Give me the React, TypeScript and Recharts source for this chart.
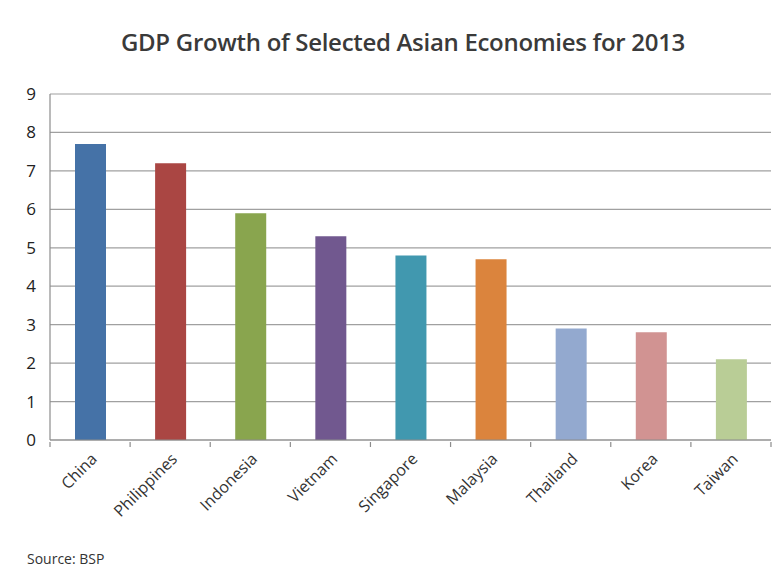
import { Bar, BarChart, CartesianGrid, Cell, XAxis, YAxis } from "recharts";

const countries = ["China", "Philippines", "Indonesia", "Vietnam", "Singapore", "Malaysia", "Thailand", "Korea", "Taiwan"];
const growth = [7.7, 7.2, 5.9, 5.3, 4.8, 4.7, 2.9, 2.8, 2.1];
const barColors = ["#4572A7", "#AA4643", "#89A54E", "#71588F", "#4198AF", "#DB843D", "#93A9CF", "#D19392", "#B9CD96"];
const yTicks = [0, 1, 2, 3, 4, 5, 6, 7, 8, 9];

const data = countries.map((c, i) => ({ country: c, value: growth[i] }));

const FONT = "'Open Sans', 'Liberation Sans', sans-serif";
const W = 782;
const H = 587;
const MARGIN = { top: 94, right: 11, bottom: 117, left: 0 };
const Y_AXIS_W = 50;
const BAND = (W - MARGIN.right - MARGIN.left - Y_AXIS_W) / countries.length;

function CountryTick({ x, y, index, payload }: { x: number; y: number; index: number; payload: { value: string } }) {
  const half = BAND / 2;
  return (
    <g>
      {index === 0 && <line x1={x - half} x2={x - half} y1={y} y2={y + 5} stroke="#8c8c8c" strokeWidth={1.2} />}
      <line x1={x + half} x2={x + half} y1={y} y2={y + 5} stroke="#8c8c8c" strokeWidth={1.2} />
      <g transform={`translate(${x + 8},${y + 18})`}>
        <text textAnchor="end" transform="rotate(-45)" fill="#333" fontSize={16} fontFamily={FONT}>
          {payload.value}
        </text>
      </g>
    </g>
  );
}

export default function App() {
  return (
    <div style={{ position: "absolute", left: 0, top: 0, width: W, height: H, background: "#fff", fontFamily: FONT }}>
      <div
        style={{
          position: "absolute",
          top: 25,
          left: 0,
          width: 806,
          textAlign: "center",
          fontSize: 24,
          fontWeight: 600,
          color: "#3a3a3a",
          letterSpacing: -0.3,
        }}
      >
        GDP Growth of Selected Asian Economies for 2013
      </div>
      <BarChart width={W} height={H} data={data} margin={MARGIN}>
        <CartesianGrid vertical={false} stroke="#a0a0a0" strokeWidth={1.2} />
        <XAxis
          dataKey="country"
          interval={0}
          tickLine={false}
          tickSize={0}
          axisLine={{ stroke: "#8c8c8c", strokeWidth: 1.2 }}
          tick={CountryTick}
        />
        <YAxis
          domain={[0, 9]}
          ticks={yTicks}
          width={Y_AXIS_W}
          tickSize={0}
          tickMargin={14}
          axisLine={{ stroke: "#8c8c8c", strokeWidth: 1.2 }}
          tick={{ fill: "#222", fontSize: 17, fontFamily: FONT }}
        />
        <Bar dataKey="value" barSize={31} isAnimationActive={false}>
          {data.map((d, i) => (
            <Cell key={d.country} fill={barColors[i]} />
          ))}
        </Bar>
      </BarChart>
      <div style={{ position: "absolute", left: 27, top: 549, fontSize: 14, color: "#333" }}>Source: BSP</div>
    </div>
  );
}
